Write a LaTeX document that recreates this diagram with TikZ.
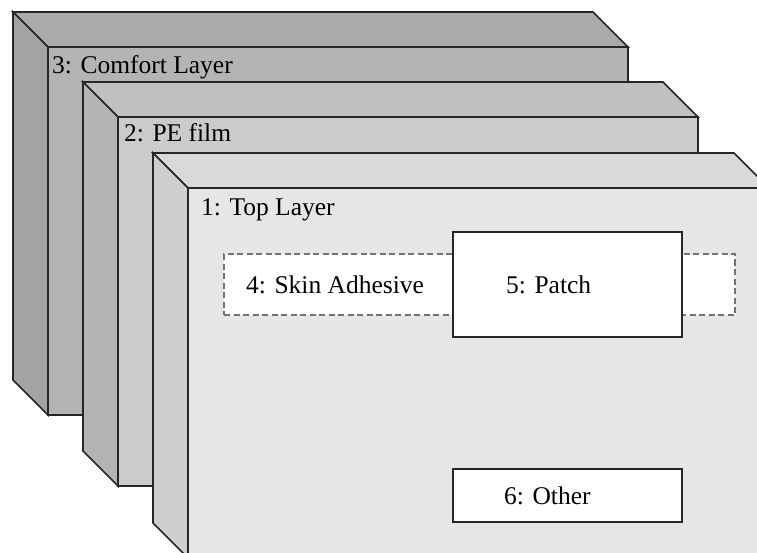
\documentclass[tikz,border=0pt]{standalone}
\usepackage{fontspec}
\setmainfont{Liberation Serif}
\tikzset{
  face/.style={draw=black!85, line width=1.7pt, line join=miter},
  lbl/.style={anchor=base west, inner sep=0pt, font=\fontsize{25.5}{30}\selectfont},
  whitebox/.style={draw=black!85, fill=white, line width=1.7pt},
  dashbox/.style={draw=black!55, fill=white, line width=2pt, dash pattern=on 6pt off 3.5pt},
}
% #1,#2 front top-left; #3,#4 front bottom-right; #5 top, #6 left, #7 front colour
\newcommand\layerbox[7]{%
  \draw[face, fill=#5] (#1-35,#2-35) -- (#3-35,#2-35) -- (#3,#2) -- (#1,#2) -- cycle;
  \draw[face, fill=#6] (#1-35,#2-35) -- (#1,#2) -- (#1,#4) -- (#1-35,#4-35) -- cycle;
  \draw[face, fill=#7] (#1,#2) rectangle (#3,#4);
}
\definecolor{tthree}{HTML}{AAAAAA}
\definecolor{lthree}{HTML}{A3A3A3}
\definecolor{fthree}{HTML}{B4B4B4}
\definecolor{ttwo}{HTML}{C0C0C0}
\definecolor{ltwo}{HTML}{B4B4B4}
\definecolor{ftwo}{HTML}{CBCBCB}
\definecolor{tone}{HTML}{D9D9D9}
\definecolor{lone}{HTML}{CECECE}
\definecolor{fone}{HTML}{E6E6E6}
\begin{document}
\begin{tikzpicture}[x=1pt,y=-1pt]
\useasboundingbox (0,0) rectangle (757,553);
\clip (0,0) rectangle (757,553);
\layerbox{48}{47}{628}{415}{tthree}{lthree}{fthree}
\node[lbl] (l3) at (52,74) {3: Comfort Layer};
\layerbox{118}{117}{698}{486}{ttwo}{ltwo}{ftwo}
\node[lbl] (l2) at (124,142) {2: PE film};
\layerbox{188}{188}{769}{558}{tone}{lone}{fone}
\node[lbl] (l1) at (201,216) {1: Top Layer};
\node[dashbox, anchor=north west, minimum width=511pt, minimum height=61pt] (adh) at (223,253) {};
\node[lbl] (l4) at (246,293) {4: Skin Adhesive};
\node[whitebox, anchor=north west, minimum width=229pt, minimum height=105pt] (patch) at (452,231) {};
\node[lbl] (l5) at (506,293) {5: Patch};
\node[whitebox, anchor=north west, minimum width=229pt, minimum height=53pt] (other) at (452,468) {};
\node[lbl] (l6) at (504,504) {6: Other};
\end{tikzpicture}
\end{document}
